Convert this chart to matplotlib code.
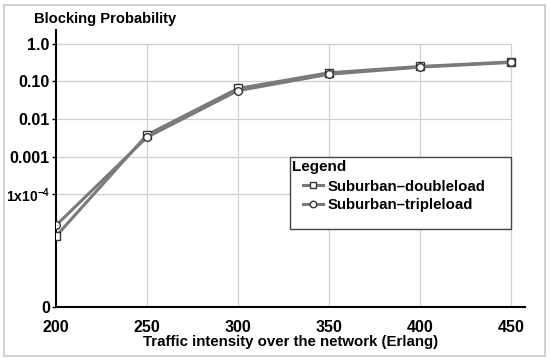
import matplotlib
matplotlib.use("Agg")
import matplotlib.pyplot as plt
from matplotlib.patches import Rectangle

# traffic intensity (Erlang)
traffic = [200, 250, 300, 350, 400, 450]
# blocking probability ("0" sits at 1e-7)
doubleload = [7.7e-6, 3.8e-3, 0.065, 0.17, 0.25, 0.33]
tripleload = [1.5e-5, 3.3e-3, 0.057, 0.155, 0.24, 0.32]

ytick_vals = [1e-7, 1e-4, 1e-3, 1e-2, 1e-1, 1.0]
ytick_labels = ["0", r"1x10$^{-4}$", "0.001", "0.01", "0.10", "1.0"]
xtick_vals = [200, 250, 300, 350, 400, 450]

plt.rcParams['font.family'] = ['Liberation Sans', 'DejaVu Sans']
plt.rcParams['font.weight'] = 'bold'
plt.rcParams['mathtext.fontset'] = 'custom'
plt.rcParams['mathtext.rm'] = 'Liberation Sans:bold'
plt.rcParams['mathtext.bf'] = 'Liberation Sans:bold'
plt.rcParams['mathtext.default'] = 'bf'

fig = plt.figure(figsize=(5.5, 3.6), dpi=100)
fig.patches.append(Rectangle((0.008, 0.012), 0.982, 0.975, transform=fig.transFigure,
                             fill=False, edgecolor='#c8c8c8', linewidth=1.2))
ax = fig.add_axes([0.102, 0.147, 0.853, 0.77])

ax.set_yscale('log')
ax.set_xlim(200, 458)
ax.set_ylim(1e-7, 2.35)

# grid limited to the data region
ax.hlines(ytick_vals[1:], 200, 450, color='#d0d0d0', linewidth=0.9, zorder=0)
ax.vlines(xtick_vals[1:], 1e-7, 1.0, color='#d0d0d0', linewidth=0.9, zorder=0)

ax.plot(traffic, doubleload, color='#7a7a7a', linewidth=2.2, marker='s', markersize=5.5,
        markerfacecolor='white', markeredgecolor='#333333', markeredgewidth=1.0,
        label='Suburban\u2013doubleload', zorder=3)
ax.plot(traffic, tripleload, color='#7a7a7a', linewidth=2.2, marker='o', markersize=5.5,
        markerfacecolor='white', markeredgecolor='#333333', markeredgewidth=1.0,
        label='Suburban\u2013tripleload', zorder=3)

ax.set_yticks(ytick_vals)
ax.set_yticklabels(ytick_labels)
ax.yaxis.set_minor_locator(matplotlib.ticker.NullLocator())
ax.set_xticks(xtick_vals)
ax.tick_params(axis='y', labelsize=11.5, length=3, width=1, pad=1.5)
ax.tick_params(axis='x', labelsize=11.5, length=0, pad=9)
ax.get_yticklabels()[1].set_fontsize(10)

for s in ['top', 'right']:
    ax.spines[s].set_visible(False)
for s in ['left', 'bottom']:
    ax.spines[s].set_linewidth(1.5)

ax.set_xlabel('Traffic intensity over the network (Erlang)', fontsize=10.8,
              fontweight='bold', labelpad=0.5)
fig.text(0.062, 0.947, 'Blocking Probability', fontsize=10.6, fontweight='bold',
         va='center', ha='left')

# legend box with title, entries indented below it
ax.add_patch(Rectangle((0.499, 0.282), 0.471, 0.26, transform=ax.transAxes,
                       fill=True, facecolor='white', edgecolor='#444444',
                       linewidth=1.0, zorder=4))
ax.text(0.503, 0.53, 'Legend', transform=ax.transAxes, fontsize=11,
        fontweight='bold', va='top', ha='left', zorder=5)
leg = ax.legend(loc='upper left', bbox_to_anchor=(0.527, 0.46),
                fontsize=10.8, frameon=False, handlelength=1.3,
                handletextpad=0.35, borderpad=0, labelspacing=0.3,
                borderaxespad=0, markerscale=0.85)
leg.set_zorder(6)

fig.savefig('out.png', dpi=100)
